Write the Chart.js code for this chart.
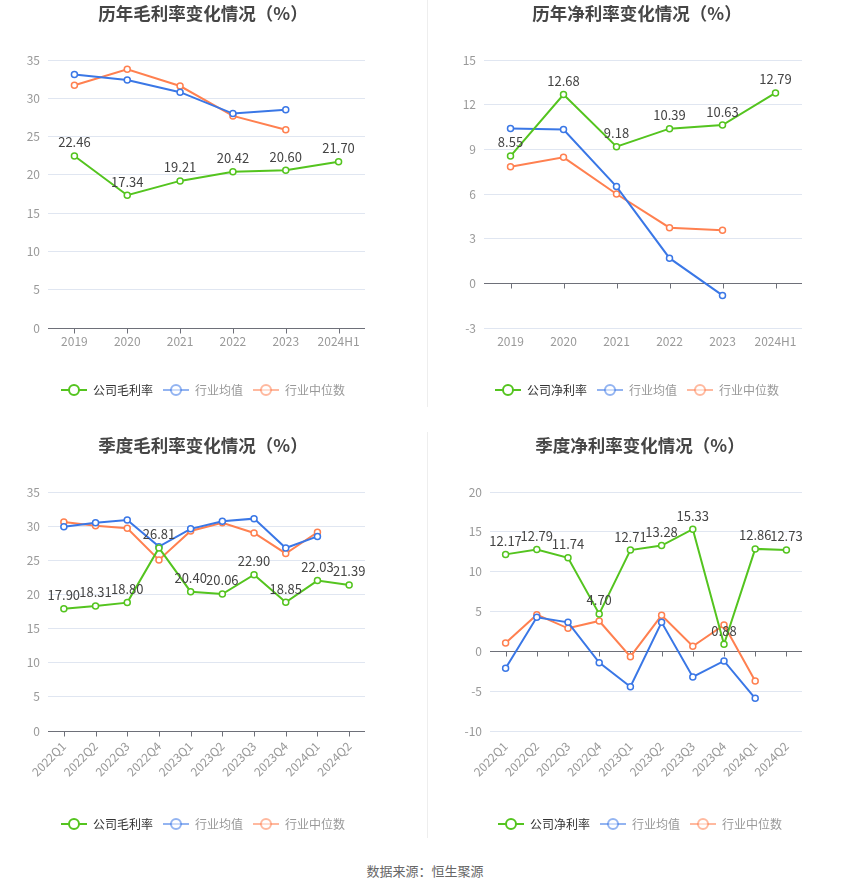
<!DOCTYPE html>
<html>
<head>
<meta charset="utf-8">
<script src="https://cdn.jsdelivr.net/npm/chart.js@4"></script>
<style>
  body { margin: 0; background: #fff; font-family: 'Noto Sans CJK SC', sans-serif; }
  #page { position: relative; width: 850px; height: 891px; }
  .panel { position: absolute; }
  .divider { position: absolute; left: 427px; width: 1px; background: #eeeeee; }
  #source { position: absolute; left: 0; top: 861px; width: 850px; text-align: center; font-size: 13px; color: #666; }
</style>
</head>
<body>
<div id="page">
  <div class="panel" style="left:0;top:0;width:406px;height:408px"><canvas id="c1"></canvas></div>
  <div class="panel" style="left:425px;top:0;width:425px;height:408px"><canvas id="c2"></canvas></div>
  <div class="panel" style="left:0;top:432px;width:406px;height:410px"><canvas id="c3"></canvas></div>
  <div class="panel" style="left:425px;top:432px;width:425px;height:410px"><canvas id="c4"></canvas></div>
  <div class="divider" style="top:0;height:407px"></div>
  <div class="divider" style="top:432px;height:406px"></div>
  <div id="source">数据来源：恒生聚源</div>
</div>
<script>
var yearLabels = ['2019', '2020', '2021', '2022', '2023', '2024H1'];
var grossCompany = [22.46, 17.34, 19.21, 20.42, 20.60, 21.70];
var grossIndustryAvg = [33.1, 32.4, 30.8, 28.0, 28.5, null];
var grossIndustryMedian = [31.7, 33.8, 31.6, 27.7, 25.9, null];

var netCompany = [8.55, 12.68, 9.18, 10.39, 10.63, 12.79];
var netIndustryAvg = [10.4, 10.33, 6.5, 1.69, -0.81, null];
var netIndustryMedian = [7.83, 8.46, 6.0, 3.74, 3.56, null];

var quarterLabels = ['2022Q1', '2022Q2', '2022Q3', '2022Q4', '2023Q1', '2023Q2', '2023Q3', '2023Q4', '2024Q1', '2024Q2'];
var qGrossCompany = [17.90, 18.31, 18.80, 26.81, 20.40, 20.06, 22.90, 18.85, 22.03, 21.39];
var qGrossIndustryAvg = [29.9, 30.5, 30.9, 27.0, 29.6, 30.7, 31.1, 26.8, 28.5, null];
var qGrossIndustryMedian = [30.6, 30.05, 29.7, 25.06, 29.3, 30.5, 29.0, 26.0, 29.1, null];

var qNetCompany = [12.17, 12.79, 11.74, 4.70, 12.71, 13.28, 15.33, 0.88, 12.86, 12.73];
var qNetIndustryAvg = [-2.13, 4.27, 3.64, -1.42, -4.44, 3.64, -3.22, -1.21, -5.9, null];
var qNetIndustryMedian = [1.05, 4.6, 2.89, 3.81, -0.67, 4.52, 0.63, 3.31, -3.72, null];

var GREEN = '#54c41f';
var BLUE = '#3a77e6';
var ORANGE = '#ff8050';
var FONT = "'Noto Sans CJK SC', 'Microsoft YaHei', sans-serif";

Chart.defaults.font.family = FONT;
Chart.defaults.animation = false;

// small line + hollow circle used as legend symbol
function legendIcon(color, alpha) {
    var c = document.createElement('canvas');
    c.width = 26; c.height = 14;
    var g = c.getContext('2d');
    g.globalAlpha = alpha;
    g.strokeStyle = color;
    g.lineWidth = 2;
    g.beginPath(); g.moveTo(0, 7); g.lineTo(26, 7); g.stroke();
    g.beginPath(); g.arc(13, 7, 5, 0, Math.PI * 2);
    g.fillStyle = '#fff'; g.fill(); g.stroke();
    return c;
}

// axis line drawn on the zero value, with small ticks
var zeroAxisPlugin = {
    id: 'zeroAxis',
    beforeDatasetsDraw: function(chart) {
        var ctx = chart.ctx, xs = chart.scales.x, ys = chart.scales.y;
        var y0 = Math.round(ys.getPixelForValue(0)) + 0.5;
        ctx.save();
        ctx.strokeStyle = '#6e7079';
        ctx.lineWidth = 1;
        ctx.beginPath();
        ctx.moveTo(chart.chartArea.left, y0);
        ctx.lineTo(chart.chartArea.right, y0);
        for (var i = 0; i < xs.ticks.length; i++) {
            var px = Math.round(xs.getPixelForTick(i)) + 0.5;
            ctx.moveTo(px, y0);
            ctx.lineTo(px, y0 + 5);
        }
        ctx.stroke();
        ctx.restore();
    }
};

// y tick labels, drawn left of the plot (the axis box itself is kept narrow)
var yLabelPlugin = {
    id: 'yLabels',
    afterDraw: function(chart) {
        var ctx = chart.ctx, ys = chart.scales.y;
        ctx.save();
        ctx.font = '12px ' + FONT;
        ctx.fillStyle = '#999';
        ctx.textAlign = 'right';
        ctx.textBaseline = 'middle';
        for (var i = 0; i < ys.ticks.length; i++) {
            var v = ys.ticks[i].value;
            ctx.fillText(String(v), chart.chartArea.left - 8, ys.getPixelForValue(v));
        }
        ctx.restore();
    }
};

// value labels above the company series
var valueLabelPlugin = {
    id: 'valueLabels',
    afterDatasetsDraw: function(chart) {
        var ctx = chart.ctx;
        var meta = chart.getDatasetMeta(0);
        var data = chart.data.datasets[0].data;
        ctx.save();
        ctx.font = '13px ' + FONT;
        ctx.fillStyle = '#444';
        ctx.textAlign = 'center';
        ctx.textBaseline = 'bottom';
        for (var i = 0; i < meta.data.length; i++) {
            var pt = meta.data[i];
            ctx.fillText(data[i].toFixed(2), pt.x, pt.y - 7);
        }
        ctx.restore();
    }
};

function lineSet(label, data, color) {
    return {
        label: label,
        data: data,
        borderColor: color,
        backgroundColor: color,
        borderWidth: 2,
        pointRadius: 3,
        pointBorderWidth: 1.5,
        pointBackgroundColor: '#fff',
        pointBorderColor: color,
        tension: 0
    };
}

function makeChart(id, title, labels, sets, names, yMin, yMax, yStep, pad, yWidth, xHeight, rotate, xPad) {
    var ctx = document.getElementById(id);
    var colors = [GREEN, BLUE, ORANGE];
    return new Chart(ctx, {
        type: 'line',
        data: {
            labels: labels,
            datasets: [
                lineSet(names[0], sets[0], GREEN),
                lineSet(names[1], sets[1], BLUE),
                lineSet(names[2], sets[2], ORANGE)
            ]
        },
        options: {
            responsive: true,
            maintainAspectRatio: false,
            layout: { padding: { left: pad[0], right: pad[1], top: 0, bottom: 2 } },
            plugins: {
                title: {
                    display: true,
                    text: title,
                    color: '#464646',
                    font: { size: 17.5, weight: 'bold' },
                    padding: { top: 3, bottom: 36 }
                },
                legend: {
                    position: 'bottom',
                    labels: {
                        usePointStyle: true,
                        pointStyleWidth: 26,
                        boxHeight: 12,
                        padding: 10,
                        font: { size: 12 },
                        generateLabels: function(chart) {
                            return chart.data.datasets.map(function(ds, i) {
                                return {
                                    text: ds.label,
                                    pointStyle: legendIcon(colors[i], i === 0 ? 1 : 0.55),
                                    fontColor: i === 0 ? '#333' : '#999',
                                    fillStyle: colors[i],
                                    strokeStyle: colors[i],
                                    lineWidth: 0,
                                    hidden: !chart.isDatasetVisible(i),
                                    datasetIndex: i
                                };
                            });
                        }
                    }
                },
                tooltip: { enabled: false }
            },
            scales: {
                x: {
                    offset: true,
                    grid: { display: false, drawTicks: false },
                    border: { display: false },
                    afterFit: function(s) { s.height = xHeight; },
                    ticks: {
                        color: '#999',
                        font: { size: 12 },
                        padding: xPad,
                        autoSkip: false,
                        minRotation: rotate,
                        maxRotation: rotate
                    }
                },
                y: {
                    min: yMin,
                    max: yMax,
                    afterFit: function(s) { s.width = yWidth; },
                    grid: { color: '#e0e6f1', drawTicks: false },
                    border: { display: false },
                    ticks: { stepSize: yStep, display: false }
                }
            }
        },
        plugins: [zeroAxisPlugin, yLabelPlugin, valueLabelPlugin]
    });
}

makeChart('c1', '历年毛利率变化情况（%）', yearLabels,
    [grossCompany, grossIndustryAvg, grossIndustryMedian],
    ['公司毛利率', '行业均值', '行业中位数'], 0, 35, 5, [41, 41], 7, 46, 0, 6);

makeChart('c2', '历年净利率变化情况（%）', yearLabels,
    [netCompany, netIndustryAvg, netIndustryMedian],
    ['公司净利率', '行业均值', '行业中位数'], -3, 15, 3, [47, 48], 12, 46, 0, 6);

makeChart('c3', '季度毛利率变化情况（%）', quarterLabels,
    [qGrossCompany, qGrossIndustryAvg, qGrossIndustryMedian],
    ['公司毛利率', '行业均值', '行业中位数'], 0, 35, 5, [41, 41], 7, 77, 45, 8);

makeChart('c4', '季度净利率变化情况（%）', quarterLabels,
    [qNetCompany, qNetIndustryAvg, qNetIndustryMedian],
    ['公司净利率', '行业均值', '行业中位数'], -10, 20, 5, [53, 48], 12, 77, 45, 8);
</script>
</body>
</html>
